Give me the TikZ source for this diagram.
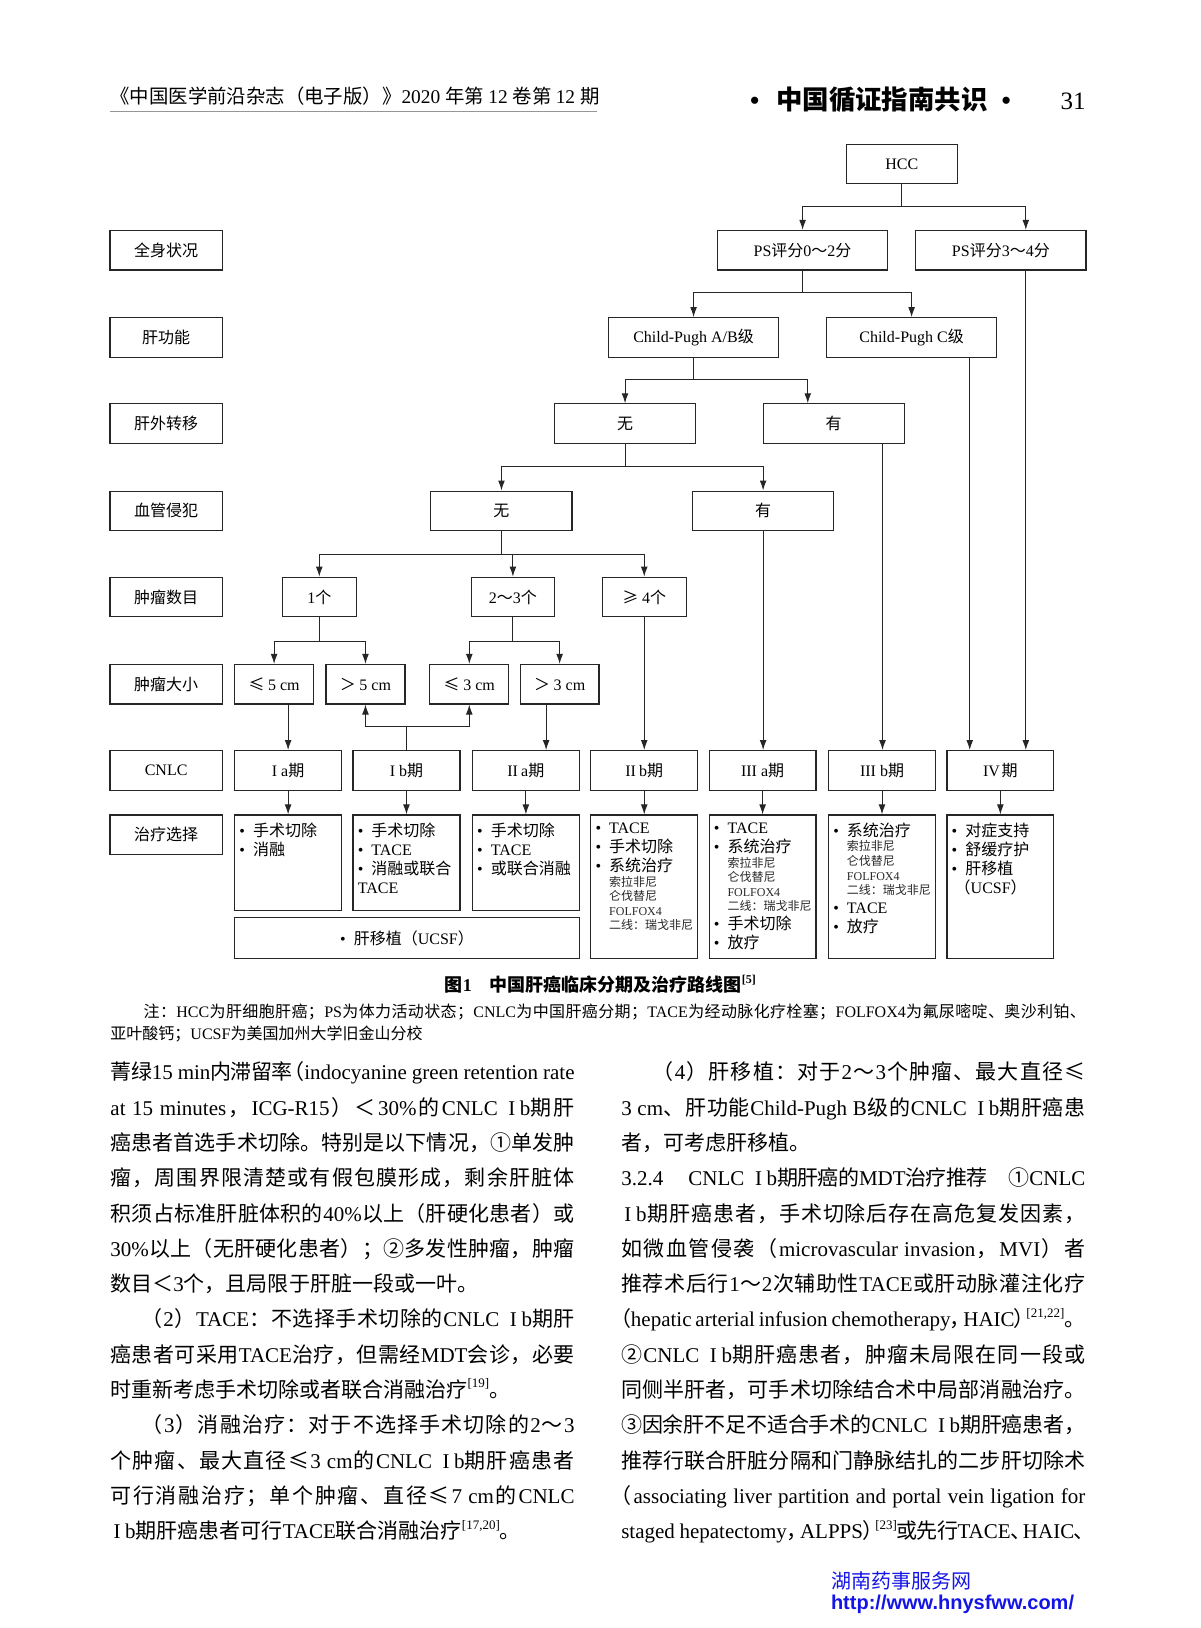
\documentclass[tikz,border=0pt]{standalone}
\usepackage{fontspec}
\usepackage{xcolor}
\usetikzlibrary{arrows.meta, positioning, calc}
\setmainfont{Liberation Serif}
\newfontfamily\cjkfont{Noto Sans CJK SC}
\newfontfamily\urlfont{Liberation Sans}
\definecolor{rulegray}{RGB}{150, 150, 150}
\definecolor{linkblue}{RGB}{20, 20, 230}
\definecolor{druggray}{RGB}{40, 40, 40}
\setlength\parindent{0pt}

% CJK / Latin font switching
\newcommand\latinfont{\rmfamily}
\newXeTeXintercharclass\cjkclass
\newcount\cjkcnt
\newcommand\setcjkrange[2]{%
  \cjkcnt=#1\relax
  \loop \XeTeXcharclass\cjkcnt=\cjkclass
    \advance\cjkcnt by 1
  \ifnum\cjkcnt<#2\relax \repeat}
\setcjkrange{"2E80}{"A000}
\setcjkrange{"FF00}{"FFF0}
\setcjkrange{"2460}{"2500}
\XeTeXcharclass"2264=\cjkclass
\XeTeXcharclass"2265=\cjkclass
\XeTeXinterchartoks 0 \cjkclass = {\hskip 0pt plus .2em minus .05em\relax\cjkfont}
\XeTeXinterchartoks 4095 \cjkclass = {\cjkfont}
\XeTeXinterchartoks \cjkclass \cjkclass = {\hskip 0pt plus .2em minus .12em\relax}
\XeTeXinterchartoks \cjkclass 0 = {\hskip 0pt plus .2em minus .05em\relax\latinfont}
\XeTeXinterchartoks 4095 0 = {\latinfont}
\XeTeXinterchartokenstate=1

\newcommand\px{0.519pt}
\newcommand\flowfont{\fontsize{8}{9.5}\selectfont}
\newcommand\bodyfont{\fontsize{10.5}{17.6}\selectfont}
\newcommand\Ib{\hspace{0.5em}I\hspace{0.22em}b}
\newcommand\jl[1]{\makebox[232pt][s]{#1}}
\newcommand\sups[1]{\raisebox{0.85ex}{\fontsize{6.5}{7}\selectfont #1}}
\newcommand\tb[1]{\leavevmode\makebox[6.8pt][l]{•}#1\par}
\newcommand\tn[1]{\leavevmode#1\par}
\newcommand\td[1]{{\fontsize{6}{7.3}\selectfont\leavevmode\color{druggray}\hspace*{6.8pt}#1\par}}

\tikzset{
  box/.style={draw=black!85, line width=0.6pt, minimum height=38*\px, inner sep=0pt, font=\flowfont},
  lbl/.style={box, minimum width=108*\px},
  stage/.style={box, minimum width=103*\px},
  tbox/.style={draw=black!85, line width=0.6pt, inner sep=0pt, minimum width=103*\px},
  tlist/.style={anchor=north west, align=left, text width=62pt, inner xsep=2.5pt, inner ysep=4pt, font=\flowfont},
  arr/.style={draw=black!85, line width=0.5pt, -{Latex[length=5pt, width=3.4pt]}},
  link/.style={draw=black!85, line width=0.5pt},
  bodyl/.style={anchor=base west, inner sep=0pt, font=\bodyfont},
}

\begin{document}
\begin{tikzpicture}[x=0.519pt, y=-0.519pt]
  \fill[white] (0,0) rectangle (1156,1568);
  \useasboundingbox (0,0) rectangle (1156,1568);

  % Running head
  \node[anchor=base west, inner sep=0pt, font=\fontsize{9.7}{12}\selectfont] (jname) at (106,100) {《中国医学前沿杂志（电子版）》2020 年第 12 卷第 12 期};
  \draw[rulegray, line width=0.6pt] (106,107) -- (575,107);
  \node[anchor=base west, inner sep=0pt, font=\bfseries\fontsize{13.2}{15}\selectfont] (sect) at (722,105.7) {•\hspace{8.5pt}中国循证指南共识\hspace{7pt}•};
  \node[anchor=base east, inner sep=0pt, font=\fontsize{12.5}{15}\selectfont] (pageno) at (1046,105.7) {31};

  % Row labels
  \node[lbl] (qs) at (160,241) {全身状况};
  \node[lbl] (gn) at (160,325) {肝功能};
  \node[lbl] (gw) at (160,408) {肝外转移};
  \node[lbl] (xg) at (160,492) {血管侵犯};
  \node[lbl] (sm) at (160,575) {肿瘤数目};
  \node[lbl] (dx) at (160,659) {肿瘤大小};
  \node[lbl] (cn) at (160,742) {CNLC};
  \node[lbl] (zl) at (160,804) {治疗选择};

  % Decision boxes
  \node[box, minimum width=107*\px] (HCC) at (868.5,158) {HCC};
  \node[box, minimum width=164*\px] (PS02) at (773,241) {PS评分0～2分};
  \node[box, minimum width=164*\px] (PS34) at (964,241) {PS评分3～4分};
  \node[box, minimum width=164*\px] (CPAB) at (668,325) {Child-Pugh A/B级};
  \node[box, minimum width=164*\px] (CPC) at (878,325) {Child-Pugh C级};
  \node[box, minimum width=136*\px] (M0) at (602,408) {无};
  \node[box, minimum width=136*\px] (M1) at (803,408) {有};
  \node[box, minimum width=136*\px] (V0) at (483,492) {无};
  \node[box, minimum width=136*\px] (V1) at (735,492) {有};
  \node[box, minimum width=71*\px] (N1) at (307.5,575) {1个};
  \node[box, minimum width=80*\px] (N23) at (494,575) {2～3个};
  \node[box, minimum width=81*\px] (N4) at (620.5,575) {≥ 4个};
  \node[box, minimum width=76*\px] (S5a) at (264,659) {≤ 5 cm};
  \node[box, minimum width=76*\px] (S5b) at (352,659) {＞ 5 cm};
  \node[box, minimum width=76*\px] (S3a) at (452,659) {≤ 3 cm};
  \node[box, minimum width=76*\px] (S3b) at (539,659) {＞ 3 cm};

  % CNLC stages
  \node[stage] (Ia) at (277.5,742) {I\hspace{0.25em}a期};
  \node[stage] (Ib) at (391.5,742) {I\hspace{0.25em}b期};
  \node[stage] (IIa) at (506.5,742) {II\hspace{0.2em}a期};
  \node[stage] (IIb) at (620.5,742) {II\hspace{0.2em}b期};
  \node[stage] (IIIa) at (734.5,742) {III\hspace{0.25em}a期};
  \node[stage] (IIIb) at (849.5,742) {III\hspace{0.25em}b期};
  \node[stage] (IV) at (963.5,742) {IV\hspace{0.1em}期};

  % Treatment boxes
  \node[tbox, minimum height=92*\px] (Ta) at (277.5,831) {};
  \node[tbox, minimum height=92*\px] (Tb) at (391.5,831) {};
  \node[tbox, minimum height=92*\px] (Tc) at (506.5,831) {};
  \node[tbox, minimum height=138*\px] (Td) at (620.5,854) {};
  \node[tbox, minimum height=138*\px] (Te) at (734.5,854) {};
  \node[tbox, minimum height=138*\px] (Tf) at (849.5,854) {};
  \node[tbox, minimum height=138*\px] (Tg) at (963.5,854) {};
  \node[tbox, minimum width=332*\px, minimum height=39*\px, font=\flowfont] (Tlt) at (392,903.5) {•\hspace{4pt}肝移植（UCSF）};

  \node[tlist] (ta) at (Ta.north west) {\tb{手术切除}\tb{消融}};
  \node[tlist] (tb) at (Tb.north west) {\tb{手术切除}\tb{TACE}\tb{消融或联合}\tn{TACE}};
  \node[tlist] (tc) at (Tc.north west) {\tb{手术切除}\tb{TACE}\tb{或联合消融}};
  \node[tlist] (td) at (Td.north west) {\tb{TACE}\tb{手术切除}\tb{系统治疗}\td{索拉非尼}\td{仑伐替尼}\td{FOLFOX4}\td{二线：瑞戈非尼}};
  \node[tlist] (te) at (Te.north west) {\tb{TACE}\tb{系统治疗}\td{索拉非尼}\td{仑伐替尼}\td{FOLFOX4}\td{二线：瑞戈非尼}\tb{手术切除}\tb{放疗}};
  \node[tlist] (tf) at (Tf.north west) {\tb{系统治疗}\td{索拉非尼}\td{仑伐替尼}\td{FOLFOX4}\td{二线：瑞戈非尼}\tb{TACE}\tb{放疗}};
  \node[tlist] (tg) at (Tg.north west) {\tb{对症支持}\tb{舒缓疗护}\tb{肝移植}\tn{\hspace*{1.5pt}（UCSF）}};

  % Branches
  \draw[link] (HCC.south) -- ++(0,21) coordinate (jHCC);
  \draw[arr] (jHCC) -| (PS02.north);
  \draw[arr] (jHCC) -| ($(PS34.north)+(24,0)$);
  \draw[link] (PS02.south) -- ++(0,21) coordinate (jPS);
  \draw[arr] (jPS) -| (CPAB.north);
  \draw[arr] (jPS) -| (CPC.north);
  \draw[link] (CPAB.south) -- ++(0,21) coordinate (jCP);
  \draw[arr] (jCP) -| (M0.north);
  \draw[arr] (jCP) -| ($(M1.north)+(-25,0)$);
  \draw[link] (M0.south) -- ++(0,22) coordinate (jM);
  \draw[arr] (jM) -| (V0.north);
  \draw[arr] (jM) -| (V1.north);
  \draw[link] (V0.south) -- ++(0,22) coordinate (jV);
  \draw[arr] (jV) -| (N1.north);
  \draw[arr] (jV) -| (N23.north);
  \draw[arr] (jV) -| (N4.north);
  \draw[link] (N1.south) -- ++(0,23) coordinate (jN1);
  \draw[arr] (jN1) -| (S5a.north);
  \draw[arr] (jN1) -| (S5b.north);
  \draw[link] (N23.south) -- ++(0,23) coordinate (jN23);
  \draw[arr] (jN23) -| (S3a.north);
  \draw[arr] (jN23) -| (S3b.north);

  % Into stages
  \draw[arr] (S5a.south -| Ia.north) -- (Ia.north);
  \draw[link] (Ib.north) -- ++(0,-23) coordinate (jIb);
  \draw[arr] (jIb) -| (S5b.south);
  \draw[arr] (jIb) -| (S3a.south);
  \coordinate (s3bout) at ($(S3b.south)+(-13,0)$);
  \draw[arr] (s3bout) -- (s3bout |- IIa.north);
  \draw[arr] (N4.south) -- (IIb.north);
  \draw[arr] (V1.south) -- (V1.south |- IIIa.north);
  \coordinate (m1out) at ($(M1.south)+(47,0)$);
  \draw[arr] (m1out) -- (m1out |- IIIb.north);
  \coordinate (cpcout) at ($(CPC.south)+(56,0)$);
  \draw[arr] (cpcout) -- (cpcout |- IV.north);
  \coordinate (ps34out) at ($(PS34.south)+(24,0)$);
  \draw[arr] (ps34out) -- (ps34out |- IV.north);

  % Stages to treatment
  \draw[arr] (Ia.south) -- (Ta.north);
  \draw[arr] (Ib.south) -- (Tb.north);
  \draw[arr] (IIa.south) -- (Tc.north);
  \draw[arr] (IIb.south) -- (Td.north);
  \draw[arr] (IIIa.south) -- (Te.north);
  \draw[arr] (IIIb.south) -- (Tf.north);
  \draw[arr] (IV.south) -- (Tg.north);

  % Caption and note
  \node[anchor=base west, inner sep=0pt, font=\bfseries\fontsize{9}{11}\selectfont] (cap) at (428,954.6) {图1\quad 中国肝癌临床分期及治疗路线图\textsuperscript{[5]}};
  \node[anchor=base west, inner sep=0pt, font=\fontsize{8}{10}\selectfont] (note1) at (138,980) {\makebox[471pt][s]{注：HCC为肝细胞肝癌；PS为体力活动状态；CNLC为中国肝癌分期；TACE为经动脉化疗栓塞；FOLFOX4为氟尿嘧啶、奥沙利铂、}};
  \node[anchor=base west, inner sep=0pt, font=\fontsize{8}{10}\selectfont] (note2) at (106,1001) {亚叶酸钙；UCSF为美国加州大学旧金山分校};

  % Left column
  \node[bodyl] (L1) at (106,1040) {\jl{菁绿15 min内滞留率\hspace{-0.45em}（indocyanine green retention rate}};
  \node[bodyl] (L2) at (106,1074) {\jl{at 15 minutes，ICG-R15）＜30\%的CNLC\Ib{}期肝}};
  \node[bodyl] (L3) at (106,1108) {\jl{癌患者首选手术切除。特别是以下情况，①单发肿}};
  \node[bodyl] (L4) at (106,1142) {\jl{瘤，周围界限清楚或有假包膜形成，剩余肝脏体}};
  \node[bodyl] (L5) at (106,1176) {\jl{积须占标准肝脏体积的40\%以上（肝硬化患者）或}};
  \node[bodyl] (L6) at (106,1210) {\jl{30\%以上（无肝硬化患者）；②多发性肿瘤，肿瘤}};
  \node[bodyl] (L7) at (106,1244) {数目＜3个，且局限于肝脏一段或一叶。};
  \node[bodyl] (L8) at (106,1278) {\jl{\hspace*{1.5em}（2）TACE：不选择手术切除的CNLC\Ib{}期肝}};
  \node[bodyl] (L9) at (106,1312) {\jl{癌患者可采用TACE治疗，但需经MDT会诊，必要}};
  \node[bodyl] (L10) at (106,1346) {时重新考虑手术切除或者联合消融治疗\sups{[19]}。};
  \node[bodyl] (L11) at (106,1380) {\jl{\hspace*{1.5em}（3）消融治疗：对于不选择手术切除的2～3}};
  \node[bodyl] (L12) at (106,1414) {\jl{个肿瘤、最大直径≤3 cm的CNLC\Ib{}期肝癌患者}};
  \node[bodyl] (L13) at (106,1448) {\jl{可行消融治疗；单个肿瘤、直径≤7 cm的CNLC}};
  \node[bodyl] (L14) at (106,1482) {\hspace*{0.15em}I\hspace{0.22em}b期肝癌患者可行TACE联合消融治疗\sups{[17,20]}。};

  % Right column
  \node[bodyl] (R1) at (598,1040) {\jl{\hspace*{1.5em}（4）肝移植：对于2～3个肿瘤、最大直径≤}};
  \node[bodyl] (R2) at (598,1074) {\jl{3 cm、肝功能Child-Pugh B级的CNLC\Ib{}期肝癌患}};
  \node[bodyl] (R3) at (598,1108) {者，可考虑肝移植。};
  \node[bodyl] (R4) at (598,1142) {\jl{3.2.4\hspace{1.2em}CNLC\Ib{}期肝癌的MDT治疗推荐\hspace{1em}①CNLC}};
  \node[bodyl] (R5) at (598,1176) {\jl{\hspace*{0.15em}I\hspace{0.22em}b期肝癌患者，手术切除后存在高危复发因素，}};
  \node[bodyl] (R6) at (598,1210) {\jl{如微血管侵袭（microvascular invasion，MVI）者}};
  \node[bodyl] (R7) at (598,1244) {\jl{推荐术后行1～2次辅助性TACE或肝动脉灌注化疗}};
  \node[bodyl] (R8) at (598,1278) {\jl{\hspace*{-0.5em}（hepatic arterial infusion chemotherapy，\hspace{-0.35em}HAIC）\hspace{-0.4em}\sups{[21,22]}。}};
  \node[bodyl] (R9) at (598,1312) {\jl{②CNLC\Ib{}期肝癌患者，肿瘤未局限在同一段或}};
  \node[bodyl] (R10) at (598,1346) {\jl{同侧半肝者，可手术切除结合术中局部消融治疗。}};
  \node[bodyl] (R11) at (598,1380) {\jl{③因余肝不足不适合手术的CNLC\Ib{}期肝癌患者，}};
  \node[bodyl] (R12) at (598,1414) {\jl{推荐行联合肝脏分隔和门静脉结扎的二步肝切除术}};
  \node[bodyl] (R13) at (598,1448) {\jl{\hspace*{-0.5em}（associating liver partition and portal vein ligation for}};
  \node[bodyl] (R14) at (598,1482) {\jl{staged hepatectomy，\hspace{-0.35em}ALPPS）\hspace{-0.4em}\sups{[23]}或先行TACE、\hspace{-0.4em}HAIC、\hspace{-0.45em}}};

  % Watermark
  \node[anchor=base west, inner sep=0pt, text=linkblue, font=\fontsize{10}{12}\selectfont] (site) at (800,1530) {湖南药事服务网};
  \node[anchor=base west, inner sep=0pt, text=linkblue, font={\XeTeXinterchartokenstate=0\relax\urlfont\bfseries\fontsize{10}{12}\selectfont}] (url) at (800,1550) {http://www.hnysfww.com/};
\end{tikzpicture}
\end{document}
